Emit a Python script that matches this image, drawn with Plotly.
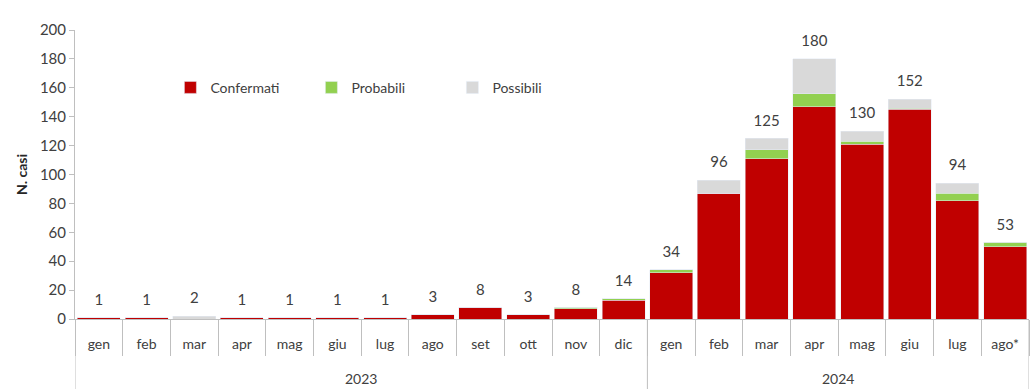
import plotly.graph_objects as go

years = ["2023"] * 12 + ["2024"] * 8
months = ["gen", "feb", "mar", "apr", "mag", "giu", "lug", "ago", "set", "ott", "nov", "dic",
          "gen", "feb", "mar", "apr", "mag", "giu", "lug", "ago*"]
confermati = [1, 1, 0, 1, 1, 1, 1, 3, 8, 3, 7, 13, 32, 87, 111, 147, 121, 145, 82, 50]
probabili = [0, 0, 0, 0, 0, 0, 0, 0, 0, 0, 1, 1, 2, 0, 6, 9, 2, 1, 5, 3]
possibili = [0, 0, 2, 0, 0, 0, 0, 0, 0, 0, 0, 0, 0, 9, 8, 24, 7, 6, 7, 0]
totali = [1, 1, 2, 1, 1, 1, 1, 3, 8, 3, 8, 14, 34, 96, 125, 180, 130, 152, 94, 53]

FONT = "Lato, sans-serif"
TXT = "#404040"
AX = "#BFBFBF"
pos = list(range(len(months)))

fig = go.Figure()
fig.add_bar(x=pos, y=confermati, name="Confermati", marker_color="#C00000", width=0.9)
fig.add_bar(x=pos, y=probabili, name="Probabili", marker_color="#92D050", width=0.9)
fig.add_bar(x=pos, y=possibili, name="Possibili", marker_color="#D9D9D9", width=0.9)
fig.add_scatter(x=pos, y=totali, mode="markers+text", text=[str(v) for v in totali],
                marker=dict(size=13, opacity=0),
                textposition="top center", textfont=dict(size=15, color=TXT, family=FONT),
                showlegend=False, hoverinfo="skip")

# year groups: labels and dividers derived from the category list
groups = []
for i, yv in enumerate(years):
    if not groups or groups[-1][0] != yv:
        groups.append([yv, i, i])
    else:
        groups[-1][2] = i

shapes = []
annotations = []
for yv, a, b in groups:
    annotations.append(dict(x=(a + b) / 2, y=-0.205, xref="x", yref="paper", text=yv,
                            showarrow=False, font=dict(size=14, color=TXT, family=FONT),
                            yanchor="middle"))
bounds = sorted({g[1] - 0.5 for g in groups} | {groups[-1][2] + 0.5})
for bx in bounds:
    shapes.append(dict(type="line", x0=bx, x1=bx, y0=0, y1=-0.245, xref="x", yref="paper",
                       line=dict(color=AX, width=1)))

fig.update_layout(
    barmode="stack",
    width=1035, height=389,
    margin=dict(l=75, r=6, t=30, b=70),
    paper_bgcolor="white", plot_bgcolor="white",
    font=dict(family=FONT, size=13, color=TXT),
    legend=dict(orientation="h", x=0.10, y=0.80, xanchor="left", yanchor="middle",
                traceorder="normal", entrywidth=96, entrywidthmode="pixels",
                font=dict(size=14, color=TXT), itemwidth=30, bgcolor="rgba(0,0,0,0)"),
    shapes=shapes, annotations=annotations,
)
fig.update_yaxes(range=[0, 200], dtick=20, showgrid=False, zeroline=False, automargin=False,
                 showline=True, linecolor=AX, ticks="outside", ticklen=5,
                 tickcolor=AX, tickfont=dict(size=15, color=TXT),
                 title=dict(text="<b>N. casi</b>", font=dict(size=14, color="#262626"), standoff=8))
fig.update_xaxes(range=[-0.5, len(months) - 0.5], showline=True, linecolor=AX, automargin=False,
                 tickmode="array", tickvals=pos, ticktext=months,
                 ticks="outside", ticklen=12, tickcolor="rgba(0,0,0,0)",
                 minor=dict(tickmode="array", tickvals=[p - 0.5 for p in pos] + [pos[-1] + 0.5],
                            ticks="outside", ticklen=36, tickcolor=AX),
                 tickfont=dict(size=14, color=TXT), showgrid=False, zeroline=False)

fig.write_html("out.html")
